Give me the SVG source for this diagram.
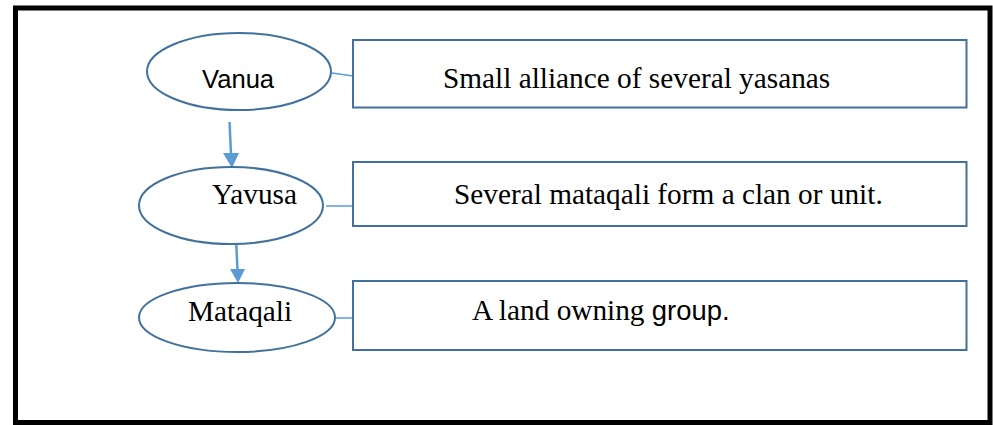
<svg xmlns="http://www.w3.org/2000/svg" width="993" height="425" viewBox="0 0 993 425">
<style>
.shape{fill:#fff;stroke:#41719C;stroke-width:2}
.serif{font-family:"Liberation Serif","Times New Roman",serif;font-size:29.3px;fill:#000}
.sans{font-family:"Liberation Sans",Arial,sans-serif;font-size:25.6px;fill:#000}
.link{stroke:#5B9BD5;stroke-width:1.5;fill:none}
.arrow{stroke:#5B9BD5;stroke-width:2.5;fill:none}
</style>
<defs>
<marker id="ah" markerWidth="16" markerHeight="16" refX="8" refY="15" viewBox="0 0 16 16" markerUnits="userSpaceOnUse" orient="auto-start-reverse">
<path d="M0,0 L8,15 L16,0 Z" fill="#5B9BD5" transform="rotate(0)"/>
</marker>
</defs>
<rect x="0" y="0" width="993" height="425" fill="#fff"/>
<rect x="15.5" y="8" width="974.5" height="414.5" fill="none" stroke="#000" stroke-width="5"/>
<g id="connectors">
<line class="link" x1="332" y1="73" x2="353" y2="76"/>
<line class="link" x1="326" y1="206" x2="353" y2="206"/>
<line class="link" x1="328" y1="318" x2="353" y2="318"/>
<line class="arrow" x1="229.5" y1="122" x2="231" y2="154"/>
<polygon points="223,153 239,153 232,168" fill="#5B9BD5"/>
<line class="arrow" x1="236" y1="238" x2="237.5" y2="270"/>
<polygon points="230,269 245,269 238,283" fill="#5B9BD5"/>
</g>
<g id="vanua">
<ellipse class="shape" cx="239" cy="71.5" rx="92" ry="38.5"/>
<text class="sans" x="202" y="88">Vanua</text>
</g>
<g id="vanua-desc">
<rect class="shape" x="353" y="40" width="613.5" height="67.5"/>
<text class="serif" x="443" y="88">Small alliance of several yasanas</text>
</g>
<g id="yavusa">
<ellipse class="shape" cx="231" cy="205.5" rx="92" ry="38.5"/>
<text class="serif" x="212" y="204">Yavusa</text>
</g>
<g id="yavusa-desc">
<rect class="shape" x="353" y="162" width="613.5" height="64"/>
<text class="serif" x="454" y="204">Several mataqali form a clan or unit.</text>
</g>
<g id="mataqali">
<ellipse class="shape" cx="237" cy="317.5" rx="98" ry="34.5"/>
<text class="serif" x="188" y="321">Mataqali</text>
</g>
<g id="mataqali-desc">
<rect class="shape" x="353" y="281" width="613.5" height="69"/>
<text x="472" y="320"><tspan class="serif">A land owning </tspan><tspan class="sans" style="font-size:27.4px">group.</tspan></text>
</g>
</svg>
